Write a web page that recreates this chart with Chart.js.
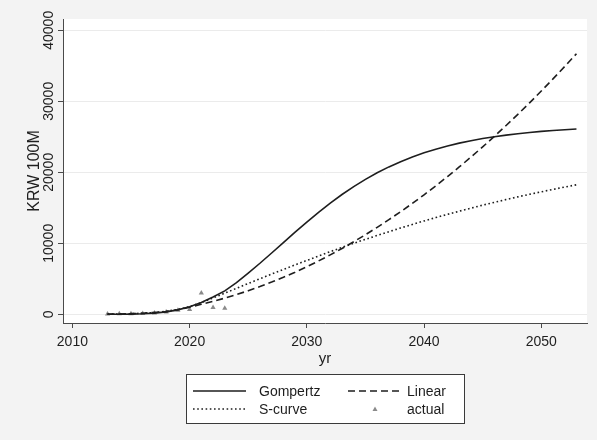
<!DOCTYPE html>
<html>
<head>
<meta charset="utf-8">
<script src="https://cdn.jsdelivr.net/npm/chart.js@4/dist/chart.umd.min.js"></script>
<style>
  html, body { margin: 0; padding: 0; background: #f3f3f3; }
  #wrap { width: 597px; height: 440px; }
</style>
</head>
<body>
<div id="wrap"><canvas id="c" width="597" height="440"></canvas></div>
<script>
// Fitted revenue paths (KRW 100M) by year, and the observed values
const years = [2013, 2014, 2015, 2016, 2017, 2018, 2019, 2020, 2021, 2022,
               2023, 2024, 2025, 2026, 2027, 2028, 2029, 2030, 2031, 2032,
               2033, 2034, 2035, 2036, 2037, 2038, 2039, 2040, 2041, 2042,
               2043, 2044, 2045, 2046, 2047, 2048, 2049, 2050, 2051, 2052, 2053];

const gompertz = [3, 10, 29, 75, 170, 342, 628, 1060, 1662, 2447,
                  3300, 4450, 5815, 7190, 8632, 10103, 11569, 12995, 14370, 15670,
                  16869, 17977, 19000, 19934, 20759, 21499, 22164, 22743, 23250, 23707,
                  24105, 24447, 24748, 25013, 25240, 25437, 25611, 25760, 25888, 26000, 26097];

const linear = [30, 50, 90, 150, 260, 380, 640, 1000, 1416, 1824,
                2277, 2775, 3318, 3905, 4537, 5215, 5937, 6703, 7515, 8371,
                9272, 10218, 11209, 12244, 13325, 14450, 15620, 16834, 18094, 19398,
                20748, 22141, 23580, 25063, 26592, 28165, 29783, 31446, 33153, 34905, 36702];

const scurve = [20, 40, 80, 150, 260, 420, 680, 1080, 1650, 2300,
                2980, 3660, 4340, 5010, 5670, 6320, 6960, 7590, 8210, 8820,
                9420, 10000, 10560, 11100, 11640, 12160, 12660, 13150, 13620, 14080,
                14520, 14950, 15370, 15770, 16160, 16540, 16900, 17250, 17590, 17920, 18240];

const actualYears = [2013, 2014, 2015, 2016, 2017, 2018, 2019, 2020, 2021, 2022, 2023];
const actual = [60, 70, 90, 110, 180, 330, 560, 680, 3000, 960, 850];

const xTicks = [2010, 2020, 2030, 2040, 2050];
const yTicks = [0, 10000, 20000, 30000, 40000];

const FONT = '"Liberation Sans", Arial, Helvetica, sans-serif';
const INK = '#1e1e1e';
const AXIS = '#4a4a4a';

const pts = (xs, ys) => xs.map((x, i) => ({ x: x, y: ys[i] }));

// Grey page with a white plot region
const backdrop = {
  id: 'backdrop',
  beforeDraw(chart) {
    const { ctx, chartArea: a } = chart;
    ctx.save();
    ctx.fillStyle = '#f3f3f3';
    ctx.fillRect(0, 0, chart.width, chart.height);
    ctx.fillStyle = '#ffffff';
    ctx.fillRect(a.left, a.top, a.right - a.left, a.bottom - a.top);
    ctx.restore();
  }
};

// Boxed two-column key under the axis title
const keyBox = {
  id: 'keyBox',
  afterDraw(chart) {
    const { ctx } = chart;
    const box = { x: 186, y: 374, w: 278, h: 49 };
    const rows = [391, 409];
    const cols = [{ s: 193, e: 246, t: 259 }, { s: 348, e: 402, t: 407 }];
    ctx.save();
    ctx.fillStyle = '#ffffff';
    ctx.fillRect(box.x, box.y, box.w, box.h);
    ctx.strokeStyle = '#3a3a3a';
    ctx.lineWidth = 1;
    ctx.strokeRect(box.x + 0.5, box.y + 0.5, box.w, box.h);
    ctx.font = '14px ' + FONT;
    ctx.textBaseline = 'middle';
    ctx.textAlign = 'left';
    chart.data.datasets.forEach((ds, i) => {
      const r = rows[Math.floor(i / 2)];
      const c = cols[i % 2];
      if (ds.showLine === false) {
        ctx.fillStyle = ds.pointBackgroundColor;
        const m = (c.s + c.e) / 2;
        ctx.beginPath();
        ctx.moveTo(m, r - 2.5);
        ctx.lineTo(m + 2.5, r + 2);
        ctx.lineTo(m - 2.5, r + 2);
        ctx.closePath();
        ctx.fill();
      } else {
        ctx.strokeStyle = ds.borderColor;
        ctx.lineWidth = ds.borderWidth;
        ctx.setLineDash(ds.borderDash || []);
        ctx.beginPath();
        ctx.moveTo(c.s, r);
        ctx.lineTo(c.e, r);
        ctx.stroke();
        ctx.setLineDash([]);
      }
      ctx.fillStyle = INK;
      ctx.fillText(ds.label, c.t, r + 1);
    });
    ctx.restore();
  }
};

new Chart(document.getElementById('c'), {
  type: 'line',
  data: {
    datasets: [
      { label: 'Gompertz', data: pts(years, gompertz), borderColor: INK, borderWidth: 1.6,
        pointRadius: 0, tension: 0 },
      { label: 'Linear', data: pts(years, linear), borderColor: INK, borderWidth: 1.6,
        borderDash: [7, 4], pointRadius: 0, tension: 0 },
      { label: 'S-curve', data: pts(years, scurve), borderColor: INK, borderWidth: 1.6,
        borderDash: [1.6, 2.6], pointRadius: 0, tension: 0 },
      { label: 'actual', data: pts(actualYears, actual), showLine: false,
        pointStyle: 'triangle', pointRadius: 3, borderWidth: 0,
        pointBackgroundColor: '#8a8a8a', pointBorderColor: '#8a8a8a' }
    ]
  },
  options: {
    responsive: false,
    animation: false,
    devicePixelRatio: 1,
    layout: { padding: { top: 19, right: 10, left: 0, bottom: 0 } },
    plugins: { legend: { display: false }, tooltip: { enabled: false } },
    scales: {
      x: {
        type: 'linear',
        min: 2009.2,
        max: 2053.9,
        afterBuildTicks(s) { s.ticks = xTicks.map(v => ({ value: v })); },
        afterFit(s) { s.height = 117; s.paddingLeft = 0; s.paddingRight = 0; },
        grid: { drawOnChartArea: false, drawTicks: true, tickLength: 5, tickColor: AXIS, color: AXIS },
        border: { display: true, color: AXIS, width: 1 },
        ticks: { color: INK, font: { family: FONT, size: 14 }, padding: 6, autoSkip: false,
                 maxRotation: 0, callback: v => String(v) },
        title: { display: true, text: 'yr', color: INK, font: { family: FONT, size: 15 },
                 padding: { top: 0, bottom: 72 } }
      },
      y: {
        min: -1225,
        max: 41590,
        afterBuildTicks(s) { s.ticks = yTicks.map(v => ({ value: v })); },
        afterFit(s) { s.width = 63; s.paddingTop = 0; s.paddingBottom = 0; },
        grid: { drawOnChartArea: true, color: '#ebebeb', lineWidth: 1, drawTicks: true,
                tickLength: 5, tickColor: AXIS },
        border: { display: true, color: AXIS, width: 1 },
        ticks: { color: INK, font: { family: FONT, size: 14 }, minRotation: 90, maxRotation: 90,
                 crossAlign: 'center', padding: -11, autoSkip: false, callback: v => String(v) },
        title: { display: true, text: 'KRW 100M', color: INK, font: { family: FONT, size: 16 },
                 padding: { top: 25, bottom: 0 } }
      }
    }
  },
  plugins: [backdrop, keyBox]
});
</script>
</body>
</html>
